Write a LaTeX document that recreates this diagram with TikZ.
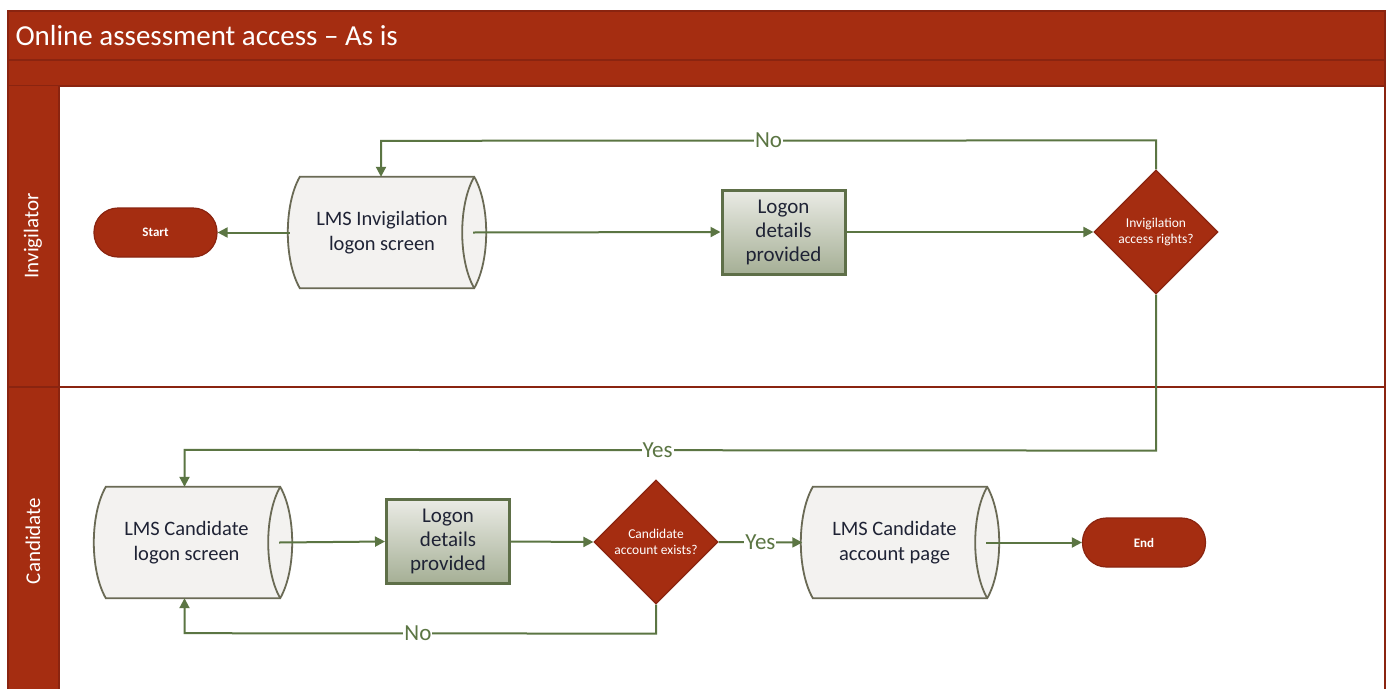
\documentclass[tikz,border=0pt]{standalone}
\usepackage{fontspec}
\setmainfont{Carlito}
\usetikzlibrary{arrows.meta,shapes.geometric,calc}
\pgfdeclarelayer{background}
\pgfsetlayers{background,main}
\definecolor{lanered}{HTML}{A52D11}
\definecolor{laneedge}{HTML}{8A2410}
\definecolor{flow}{HTML}{5B7543}
\definecolor{boxtop}{HTML}{EAEBE5}
\definecolor{boxbot}{HTML}{A5AF95}
\definecolor{boxedge}{HTML}{5E6F48}
\definecolor{cylfill}{HTML}{F3F2F0}
\definecolor{cyledge}{HTML}{6A6A55}
\definecolor{txt}{HTML}{1F2335}
\tikzset{
  terminal/.style={rectangle, rounded corners=24pt, minimum width=123pt, minimum height=49pt,
    fill=lanered, draw=laneedge, line width=1.2pt, text=white, font=\fontsize{13}{15}\selectfont\bfseries},
  decision/.style={diamond, aspect=1, minimum width=124pt, minimum height=124pt, inner sep=0pt,
    fill=lanered, draw=laneedge, line width=1.2pt, text=white, align=center,
    font=\fontsize{13.5}{16}\selectfont},
  procbox/.style={rectangle, minimum width=123pt, minimum height=84pt, top color=boxtop,
    bottom color=boxbot, draw=boxedge, line width=3pt, align=center, text=txt,
    font=\fontsize{21}{24}\selectfont},
  cyltext/.style={rectangle, minimum width=174pt, minimum height=111pt, align=center,
    text=txt, font=\fontsize{20.5}{25}\selectfont},
  cylline/.style={draw=cyledge, line width=1.8pt},
  flowline/.style={draw=flow, line width=2pt, -{Triangle[length=10pt,width=10pt]}},
  lbl/.style={fill=white, text=flow, font=\fontsize{23}{25}\selectfont, inner sep=1pt},
  lanelbl/.style={text=white, rotate=90, font=\fontsize{21}{24}\selectfont},
  titletext/.style={text=white, anchor=west, font=\fontsize{29}{32}\selectfont},
}
% #1 node name, #2 shift of the body to the right of the text centre
\newcommand\cylshape[2]{%
  \begin{pgfonlayer}{background}
  \path[fill=cylfill, cylline] ($(#1.north west)+(#2,0)$) -- ($(#1.north east)+(#2,0)$)
    .. controls ($(#1.north east)+(#2+16,28)$) and ($(#1.south east)+(#2+16,-28)$) .. ($(#1.south east)+(#2,0)$)
    -- ($(#1.south west)+(#2,0)$)
    .. controls ($(#1.south west)+(#2-16,-28)$) and ($(#1.north west)+(#2-16,28)$) .. cycle;
  \draw[cylline] ($(#1.north east)+(#2,0)$) .. controls ($(#1.north east)+(#2-16,28)$) and ($(#1.south east)+(#2-16,-28)$) .. ($(#1.south east)+(#2,0)$);
  \end{pgfonlayer}}
\begin{document}
\begin{tikzpicture}[x=1pt,y=-1pt]
\useasboundingbox (0,0) rectangle (1391,688);
% frame
\begin{pgfonlayer}{background}
\fill[white] (0,0) rectangle (1391,688);
\draw[laneedge, line width=2.5pt, fill=lanered] (8,11) rectangle (1385,60);
\draw[laneedge, line width=2.5pt, fill=lanered] (8,60) rectangle (1385,86);
\fill[lanered] (8,86) rectangle (59,690);
\draw[laneedge, line width=2.5pt] (8,86) -- (8,690);
\draw[laneedge, line width=2.5pt] (59,86) -- (59,690);
\draw[laneedge, line width=2.5pt] (1385,86) -- (1385,690);
\draw[laneedge, line width=2.5pt] (8,387) -- (59,387);
\draw[laneedge, line width=1.6pt] (59,387) -- (1385,387);
\end{pgfonlayer}
\node[titletext] (title) at (12,36) {Online assessment access – As is};
\node[lanelbl] (lane1) at (33,236) {Invigilator};
\node[lanelbl] (lane2) at (33,541) {Candidate};
% invigilator lane
\node[terminal] (start) at (155.5,232.5) {Start};
\node[cyltext] (cyl1) at (382,232.5) {LMS Invigilation\\logon screen};
\cylshape{cyl1}{5}
\node[procbox] (box1) at (783.5,232) {Logon\\details\\provided};
\node[decision] (d1) at (1156,232) {Invigilation\\access rights?};
% candidate lane
\node[cyltext] (cyl2) at (186.5,542.5) {LMS Candidate\\logon screen};
\cylshape{cyl2}{6.5}
\node[procbox] (box2) at (448,541.5) {Logon\\details\\provided};
\node[decision] (d2) at (656,542) {Candidate\\account exists?};
\node[cyltext] (cyl3) at (894.5,542.5) {LMS Candidate\\account page};
\cylshape{cyl3}{5.5}
\node[terminal] (end) at (1144,542.5) {End};
% connectors
\draw[flowline] ($(cyl1.west)+(-5,0)$) -- (start.east);
\draw[flowline] ($(cyl1.east)+(4,0)$) -- (box1.west);
\draw[flowline] (box1.east) -- (d1.west);
\draw[flowline] (d1.north) -- ++(0,-29) -- node[lbl,pos=0.5] {No} ($(cyl1.north)+(-1,-36)$) -- ($(cyl1.north)+(-1,0)$);
\draw[flowline] (d1.south) -- ($(d1.south)+(0,156)$) -- node[lbl,pos=0.513] {Yes} ($(cyl2.north)+(-2,-37)$) -- ($(cyl2.north)+(-2,0)$);
\draw[flowline] ($(cyl2.east)+(5.5,0)$) -- (box2.west);
\draw[flowline] (box2.east) -- (d2.west);
\draw[flowline] (d2.east) -- node[lbl] {Yes} ($(cyl3.west)+(-5,0)$);
\draw[flowline] (d2.south) -- ++(0,29) -- node[lbl,pos=0.505] {No} ($(cyl2.south)+(-2,35)$) -- ($(cyl2.south)+(-2,0)$);
\draw[flowline] ($(cyl3.east)+(4.5,0)$) -- (end.west);
\end{tikzpicture}
\end{document}
